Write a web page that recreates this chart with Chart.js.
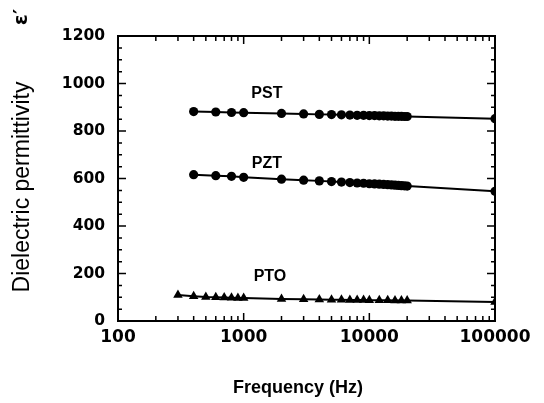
<!DOCTYPE html>
<html><head><meta charset="utf-8">
<script src="https://cdn.jsdelivr.net/npm/chart.js@4"></script>
<style>html,body{margin:0;padding:0;background:#fff}#wrap{width:544px;height:403px;position:relative}</style>
</head><body><div id="wrap"><canvas id="c" width="544" height="403"></canvas></div>
<script>
const pstFreq = [400,600,800,1000,2000,3000,4000,5000,6000,7000,8000,9000,10000,11000,12000,13000,14000,15000,16000,17000,18000,19000,20000,100000];
const pstVals = [882,880,878,877,874,872,870,869,868,867,866,866,865,865,864,864,863,863,862,862,862,861,861,852];
const pztFreq = [400,600,800,1000,2000,3000,4000,5000,6000,7000,8000,9000,10000,11000,12000,13000,14000,15000,16000,17000,18000,19000,20000,100000];
const pztVals = [616,612,609,605,597,593,590,587,585,583,581,580,578,577,576,575,574,573,572,571,570,569,568,546];
const ptoFreq = [300,400,500,600,700,800,900,1000,2000,3000,4000,5000,6000,7000,8000,9000,10000,12000,14000,16000,18000,20000,100000];
const ptoVals = [109,104,101,100,99,98,97,97,93,92,91,89,89,88,88,88,87,87,87,86,86,86,80];
const xMajorTicks = [100,1000,10000,100000];
const yMajorTicks = [0,200,400,600,800,1000,1200];
const seriesLabels = [
  {text:'PST', x:1530, y:956},
  {text:'PZT', x:1530, y:661},
  {text:'PTO', x:1620, y:189}
];
const xTitle = 'Frequency (Hz)';
const yTitle = 'Dielectric permittivity';

const pts = (f,v)=>f.map((x,i)=>({x:x,y:v[i]}));
const ink = '#000';

const frame = {
  id:'frame',
  afterDraw(chart){
    const ctx = chart.ctx, a = chart.chartArea;
    const xs = chart.scales.x, ys = chart.scales.y;
    ctx.save();
    ctx.strokeStyle = ink;
    ctx.lineWidth = 2;
    ctx.strokeRect(a.left, a.top, a.right-a.left, a.bottom-a.top);
    ctx.lineWidth = 1.5;
    for (let d=100; d<100000; d*=10){
      for (let k=1;k<10;k++){
        const v = d*k;
        const px = xs.getPixelForValue(v);
        const len = k===1?8:5;
        ctx.beginPath();
        ctx.moveTo(px,a.bottom); ctx.lineTo(px,a.bottom-len);
        ctx.moveTo(px,a.top); ctx.lineTo(px,a.top+len);
        ctx.stroke();
      }
    }
    for (let v=0; v<=1200; v+=50){
      const py = ys.getPixelForValue(v);
      const len = v%200===0?8:4;
      ctx.beginPath();
      ctx.moveTo(a.left,py); ctx.lineTo(a.left+len,py);
      ctx.moveTo(a.right,py); ctx.lineTo(a.right-len,py);
      ctx.stroke();
    }
    ctx.fillStyle = ink;
    ctx.font = 'bold 16px "Liberation Sans", Arial, sans-serif';
    ctx.textAlign = 'center';
    ctx.textBaseline = 'middle';
    seriesLabels.forEach(l=>{
      ctx.fillText(l.text, xs.getPixelForValue(l.x), ys.getPixelForValue(l.y));
    });
    ctx.font = 'bold 18px "Liberation Sans", Arial, sans-serif';
    ctx.fillText(xTitle, 298, 388);
    ctx.save();
    ctx.translate(23, 187);
    ctx.rotate(-Math.PI/2);
    ctx.font = '23px "Liberation Sans", Arial, sans-serif';
    ctx.fillText(yTitle, 0, 0);
    ctx.restore();
    ctx.save();
    ctx.translate(22, 17);
    ctx.rotate(-Math.PI/2);
    ctx.font = 'bold 20px "DejaVu Sans", sans-serif';
    ctx.fillText('ε′', 0, 0);
    ctx.restore();
    ctx.restore();
  }
};

new Chart(document.getElementById('c'), {
  type:'scatter',
  data:{datasets:[
    {label:'PST', data:pts(pstFreq,pstVals), showLine:true, borderColor:ink, backgroundColor:ink, borderWidth:2, pointStyle:'circle', pointRadius:4.6, pointBorderWidth:0},
    {label:'PZT', data:pts(pztFreq,pztVals), showLine:true, borderColor:ink, backgroundColor:ink, borderWidth:2, pointStyle:'circle', pointRadius:4.6, pointBorderWidth:0},
    {label:'PTO', data:pts(ptoFreq,ptoVals), showLine:true, borderColor:ink, backgroundColor:ink, borderWidth:2, pointStyle:'triangle', pointRadius:5.5, pointBorderWidth:0}
  ]},
  options:{
    responsive:false, animation:false,
    layout:{padding:{top:36,right:49,left:0,bottom:0}},
    plugins:{legend:{display:false}, tooltip:{enabled:false}},
    scales:{
      x:{type:'logarithmic', min:100, max:100000,
        afterBuildTicks(s){ s.ticks = xMajorTicks.map(v=>({value:v})); },
        afterFit(s){ s.height = 82; },
        grid:{display:false, drawTicks:false}, border:{display:false},
        ticks:{color:ink, padding:6, maxRotation:0, autoSkip:false,
          font:{family:'"DejaVu Sans", sans-serif', size:17, weight:'bold'},
          callback:(v)=>String(v)}
      },
      y:{min:0, max:1200,
        afterBuildTicks(s){ s.ticks = yMajorTicks.map(v=>({value:v})); },
        afterFit(s){ s.width = 118; },
        grid:{display:false, drawTicks:false}, border:{display:false},
        ticks:{color:ink, padding:13,
          font:{family:'"DejaVu Sans", sans-serif', size:15.5, weight:'bold'},
          callback:(v)=>String(v)}
      }
    }
  },
  plugins:[frame]
});
</script></body></html>
